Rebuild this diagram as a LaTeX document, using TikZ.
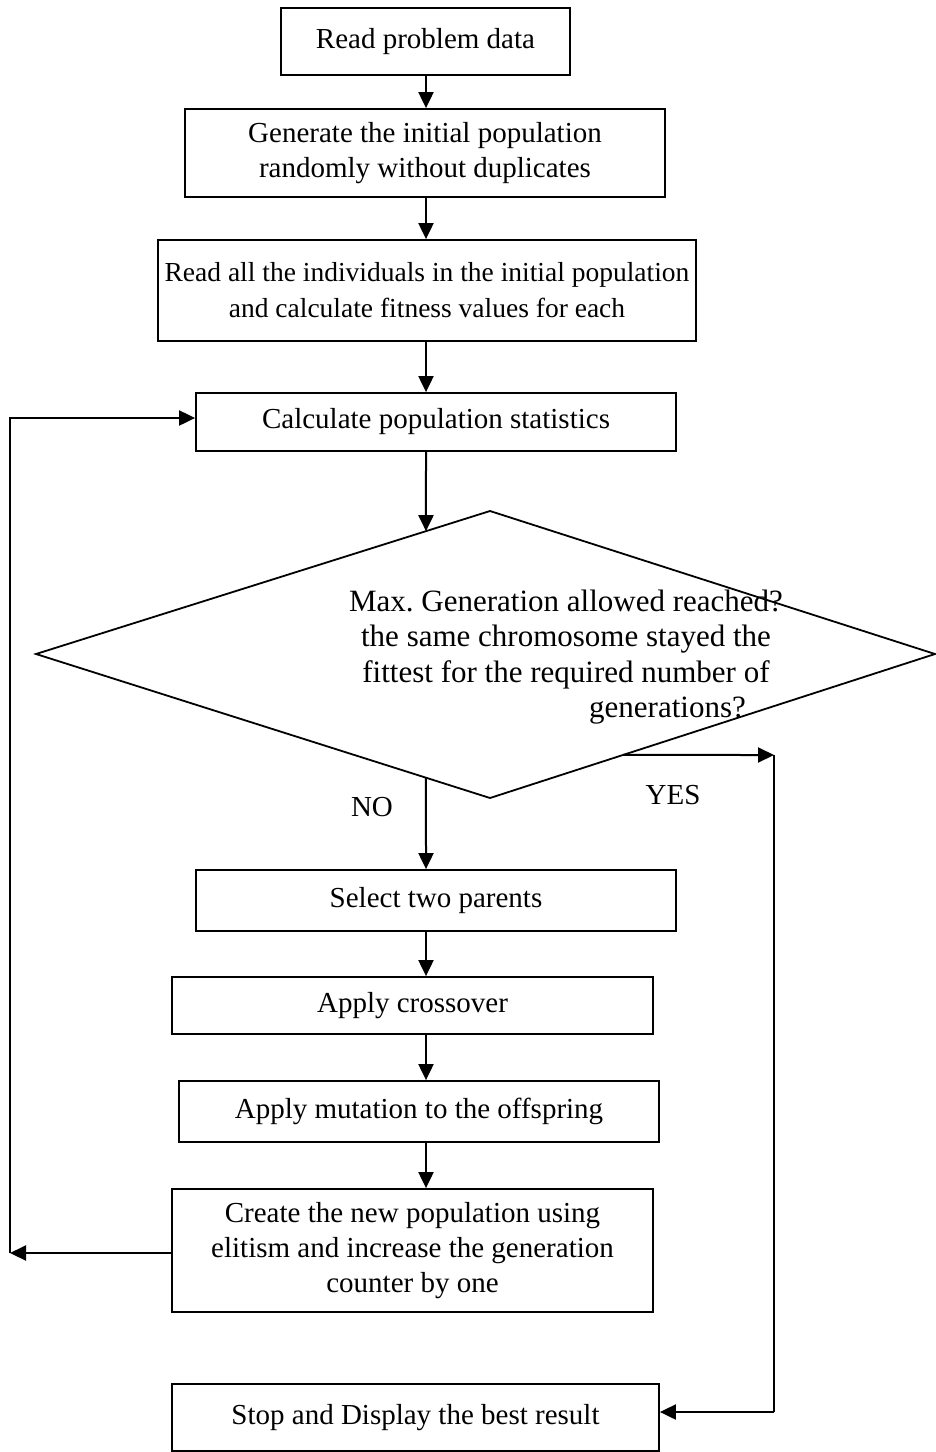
\documentclass[tikz,border=0pt]{standalone}
\usepackage{fontspec}
\setmainfont{Liberation Serif}
\usetikzlibrary{arrows.meta,calc}
\begin{document}
\frenchspacing
\begin{tikzpicture}[x=1pt,y=-1pt,
  box/.style={draw,line width=1.8pt,inner sep=0pt,align=center,font=\fontsize{29}{35}\selectfont},
  arr/.style={line width=2pt,-{Triangle[length=16pt,width=15pt]}},
  ln/.style={line width=2pt},
  dia/.style={line width=1.8pt,line join=miter},
  lbl/.style={font=\fontsize{29}{35}\selectfont,inner sep=0pt}]
\useasboundingbox (0,0) rectangle (936,1452);
\coordinate (ax) at (426,0);
% boxes
\node[box,minimum width=289pt,minimum height=67pt] (b1) at (425.5,41.5) {Read problem data};
\node[box,minimum width=480pt,minimum height=88pt] (b2) at (425,153) {Generate the initial population\\randomly without duplicates};
\node[box,minimum width=538pt,minimum height=101pt,font=\fontsize{27.5}{36}\selectfont] (b3) at (427,290.5) {Read all the individuals in the initial population\\and calculate fitness values for each};
\node[box,minimum width=480pt,minimum height=58pt] (b4) at (436,422) {Calculate population statistics};
\node[box,minimum width=480pt,minimum height=61pt] (b5) at (436,900.5) {Select two parents};
\node[box,minimum width=481pt,minimum height=57pt] (b6) at (412.5,1005.5) {Apply crossover};
\node[box,minimum width=480pt,minimum height=61pt] (b7) at (419,1111.5) {Apply mutation to the offspring};
\node[box,minimum width=481pt,minimum height=123pt] (b8) at (412.5,1250.5) {Create the new population using\\elitism and increase the generation\\counter by one};
\node[box,minimum width=487pt,minimum height=67pt] (b9) at (415.5,1417.5) {Stop and Display the best result};
% diamond
\coordinate (dT) at (490,511);
\coordinate (dL) at (36,654);
\coordinate (dR) at (935,654);
\coordinate (dB) at (490,798);
\draw[dia] (dT) -- (dR) -- (dB) -- (dL) -- cycle;
\node[lbl,align=center,font=\fontsize{31}{35.3}\selectfont] (dtext) at (566,657) {Max. Generation allowed reached?\\the same chromosome stayed the\\fittest for the required number of\\\hspace*{203pt}generations?};
\coordinate (dIn) at ($(dL)!0.859!(dT)$);
\coordinate (dNo) at ($(dL)!0.859!(dB)$);
\coordinate (dYes) at ($(dB)!0.299!(dR)$);
% arrows down
\draw[arr] (b1.south -| ax) -- (b2.north -| ax);
\draw[arr] (b2.south -| ax) -- (b3.north -| ax);
\draw[arr] (b3.south -| ax) -- (b4.north -| ax);
\draw[arr] (b4.south -| ax) -- (dIn);
\draw[arr] (dNo) -- (b5.north -| ax);
\draw[arr] (b5.south -| ax) -- (b6.north -| ax);
\draw[arr] (b6.south -| ax) -- (b7.north -| ax);
\draw[arr] (b7.south -| ax) -- (b8.north -| ax);
% YES branch
\coordinate (yc) at (774,755);
\coordinate (yb) at (774,1412);
\draw[arr] (dYes) -- (yc);
\draw[ln] (yc) -- (yb);
\draw[arr] (yb) -- (b9.east |- yb);
% loop back
\coordinate (lb) at (10,1253);
\coordinate (lt) at (10,418);
\draw[arr] (b8.west |- lb) -- (lb);
\draw[arr] (lb) -- (lt) -- (b4.west |- lt);
% labels
\node[lbl] (no) at (372,807) {NO};
\node[lbl] (yes) at (673,795) {YES};
\end{tikzpicture}
\end{document}
